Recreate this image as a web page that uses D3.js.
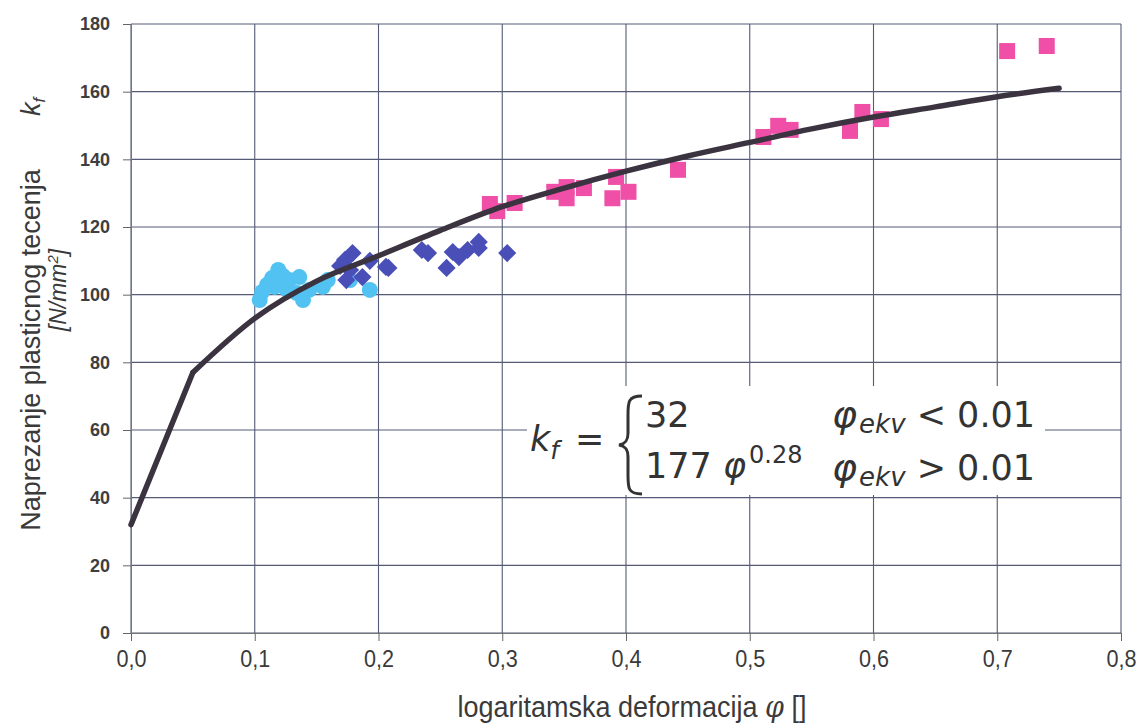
<!DOCTYPE html>
<html><head><meta charset="utf-8">
<script src="https://cdn.jsdelivr.net/npm/d3@7"></script>
<style>body{margin:0;background:#fff}svg{display:block}</style>
</head><body><svg id="c" width="1138" height="724"></svg>
<script>
// ---- data ----
const xTicks = [0,0.1,0.2,0.3,0.4,0.5,0.6,0.7,0.8];
const xTickLabels = ["0,0","0,1","0,2","0,3","0,4","0,5","0,6","0,7","0,8"];
const yTicks = [0,20,40,60,80,100,120,140,160,180];

const curveX = [0,0.05,0.1,0.15,0.2,0.25,0.3,0.35,0.4,0.45,0.5,0.55,0.6,0.65,0.7,0.75];
const curveY = [32,77,93,104,111.5,119,126,131.5,136.5,141,145,149,152.5,155.5,158.5,161];

const cyanX = [0.104,0.106,0.110,0.114,0.119,0.116,0.123,0.126,0.128,0.134,0.136,0.139,0.144,0.155,0.159,0.177,0.193];
const cyanY = [98.4,100.8,102.9,104.9,107.3,102.3,105.5,101.4,104.3,100.5,105.2,98.4,101.4,102.3,104.3,104.3,101.4];

const blueX = [0.169,0.173,0.179,0.174,0.177,0.187,0.193,0.206,0.208,0.235,0.240,0.255,0.260,0.265,0.272,0.281,0.281,0.304];
const blueY = [108.5,110.3,112.3,104.3,107.3,105.2,110,108.2,107.9,113.2,112.3,107.9,112.6,111.1,113.2,115.6,113.8,112.3];

const pinkX = [0.290,0.296,0.310,0.342,0.352,0.352,0.366,0.389,0.392,0.402,0.442,0.511,0.523,0.533,0.581,0.591,0.606,0.708,0.740];
const pinkY = [126.8,124.7,127.1,130.4,131.8,128.5,131.5,128.5,134.8,130.4,136.9,146.6,149.9,148.7,148.4,154,151.9,172,173.5];

// ---- drawing ----
const svg = d3.select("#c");
const L=131, R=1121, T=24, B=633;
const x = d3.scaleLinear().domain([0,0.8]).range([L,R]);
const y = d3.scaleLinear().domain([0,180]).range([B,T]);
const gridCol = "#555a76";

// grid
svg.append("g").selectAll("line").data(yTicks).join("line")
  .attr("x1",L).attr("x2",R).attr("y1",d=>y(d)).attr("y2",d=>y(d))
  .attr("stroke",gridCol).attr("stroke-width",1.1);
svg.append("g").selectAll("line").data(xTicks).join("line")
  .attr("x1",d=>x(d)).attr("x2",d=>x(d)).attr("y1",T).attr("y2",B)
  .attr("stroke",gridCol).attr("stroke-width",1.1);

// axes
const ax = svg.append("g").attr("transform",`translate(0,${B})`)
  .call(d3.axisBottom(x).tickValues(xTicks).tickFormat((d,i)=>xTickLabels[i]).tickSize(8).tickPadding(9));
ax.attr("font-size",24);
ax.select(".domain").attr("stroke","#777");
ax.selectAll(".tick line").attr("stroke","#666");
ax.selectAll("text").attr("font-family","'Liberation Sans',Arial,sans-serif")
  .attr("font-size",24).attr("fill","#3a3a3a").attr("transform","scale(0.9,1)");
const ay = svg.append("g").attr("transform",`translate(${L},0)`)
  .call(d3.axisLeft(y).tickValues(yTicks).tickSize(8).tickPadding(13));
ay.select(".domain").attr("stroke","#777");
ay.selectAll(".tick line").attr("stroke","#666");
ay.selectAll("text").attr("font-family","'Liberation Sans',Arial,sans-serif")
  .attr("font-weight","bold").attr("font-size",18).attr("fill","#3e3e3e");

// equation white box
svg.append("rect").attr("x",527).attr("y",386).attr("width",518).attr("height",109).attr("fill","#fff");

// scatter
const cyan = cyanX.map((v,i)=>[v,cyanY[i]]);
const blue = blueX.map((v,i)=>[v,blueY[i]]);
const pink = pinkX.map((v,i)=>[v,pinkY[i]]);
svg.append("g").selectAll("circle").data(cyan).join("circle")
  .attr("cx",d=>x(d[0])).attr("cy",d=>y(d[1])).attr("r",8).attr("fill","#52c2f2");
svg.append("g").selectAll("path").data(blue).join("path")
  .attr("d",d3.symbol(d3.symbolSquare,165))
  .attr("transform",d=>`translate(${x(d[0])},${y(d[1])}) rotate(45)`)
  .attr("fill","#4a4fb8");
svg.append("g").selectAll("rect").data(pink).join("rect")
  .attr("x",d=>x(d[0])-8).attr("y",d=>y(d[1])-8).attr("width",16).attr("height",16)
  .attr("fill","#f04fa8");

// curve
const pts = curveX.map((v,i)=>[v,curveY[i]]);
const line = d3.line().x(d=>x(d[0])).y(d=>y(d[1]));
svg.append("path").attr("d",line.curve(d3.curveLinear)(pts.slice(0,2)))
  .attr("fill","none").attr("stroke","#3b3440").attr("stroke-width",5.5).attr("stroke-linecap","round");
svg.append("path").attr("d",line.curve(d3.curveMonotoneX)(pts.slice(1)))
  .attr("fill","none").attr("stroke","#3b3440").attr("stroke-width",5.5).attr("stroke-linecap","round").attr("stroke-linejoin","round");

// equation
const eq = svg.append("g").attr("font-family","'DejaVu Sans',Verdana,sans-serif").attr("fill","#333");
const t1 = eq.append("text").attr("x",530).attr("y",451).attr("font-size",35);
t1.append("tspan").attr("font-style","italic").text("k");
t1.append("tspan").attr("font-style","italic").attr("font-size",25).attr("dy",8).text("f");
t1.append("tspan").attr("dy",-8).attr("dx",16).text("=");
eq.append("path").attr("d","M642,396 C628,396 628,402 628,415 L628,433 C628,441 625,444 619,445 C625,446 628,449 628,457 L628,475 C628,488 628,494 642,494")
  .attr("fill","none").attr("stroke","#333").attr("stroke-width",3);
eq.append("text").attr("x",645).attr("y",427).attr("font-size",35).text("32");
const t2 = eq.append("text").attr("x",645).attr("y",478).attr("font-size",35);
t2.append("tspan").text("177 ");
t2.append("tspan").attr("font-style","italic").text("φ");
t2.append("tspan").attr("font-size",24).attr("dy",-15).attr("dx",3).text("0.28");
const t3 = eq.append("text").attr("x",832).attr("y",427).attr("font-size",35);
t3.append("tspan").attr("font-style","italic").attr("font-size",38).text("φ");
t3.append("tspan").attr("font-style","italic").attr("font-size",26).attr("dy",6).attr("dx",2).text("ekv");
t3.append("tspan").attr("dy",-6).text(" < 0.01");
const t4 = eq.append("text").attr("x",832).attr("y",480).attr("font-size",35);
t4.append("tspan").attr("font-style","italic").attr("font-size",38).text("φ");
t4.append("tspan").attr("font-style","italic").attr("font-size",26).attr("dy",6).attr("dx",2).text("ekv");
t4.append("tspan").attr("dy",-6).text(" > 0.01");

// axis titles
svg.append("text").attr("transform","translate(632,717) scale(0.9,1)").attr("text-anchor","middle")
  .attr("font-family","'Liberation Sans',Arial,sans-serif").attr("font-size",30).attr("fill","#3a3a3a")
  .html('logaritamska deformacija <tspan font-style="italic" font-family="\'DejaVu Serif\',serif">φ</tspan> []');
svg.append("text").attr("transform","translate(40,350) rotate(-90)").attr("text-anchor","middle")
  .attr("font-family","'Liberation Sans',Arial,sans-serif").attr("font-size",27).attr("fill","#3a3a3a")
  .text("Naprezanje plasticnog tecenja");
const kf = svg.append("text").attr("transform","translate(40,116) rotate(-90)")
  .attr("font-family","'Liberation Sans',Arial,sans-serif").attr("font-style","italic").attr("font-size",27).attr("fill","#3a3a3a");
kf.append("tspan").text("k");
kf.append("tspan").attr("font-size",17).attr("dy",5).text("f");
svg.append("text").attr("transform","translate(66,290) rotate(-90)").attr("text-anchor","middle")
  .attr("font-family","'Liberation Sans',Arial,sans-serif").attr("font-style","italic").attr("font-size",23).attr("fill","#3a3a3a")
  .html('[N/mm<tspan font-size="15" dy="-8">2</tspan><tspan dy="8">]</tspan>');
</script></body></html>
